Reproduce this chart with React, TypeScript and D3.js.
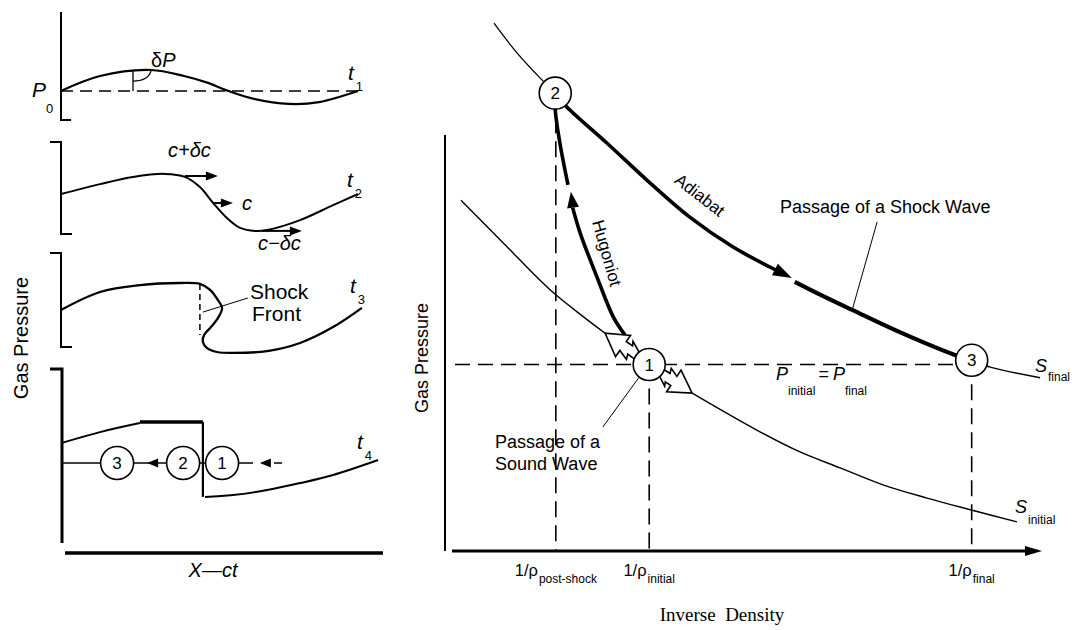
import React from 'react';
import * as d3 from 'd3';

type Pt = [number, number];

// ---------- left: gas pressure against X - ct at four moments (x in %, pressure relative to each panel's start level)
const profileT1: Pt[] = [[0, 0], [13, 5], [30, 7], [41, 5], [49, 2.7], [55, 0.3], [63, -2.3], [76, -4.3], [86, -3.7], [99, 0]];
const profileT2: Pt[] = [[0, 0], [13, 3.3], [24, 5.7], [34.7, 6.7], [41.3, 5.7], [46.3, 2.3], [50.7, -3], [55.3, -8], [59.7, -11.3], [64.7, -12.3], [68.7, -12], [79.7, -8.7], [90.7, -3.7], [99, 0]];
const profileT3: Pt[] = [[0, 0], [13, 6], [26.3, 8.3], [39.7, 9], [46.3, 8.7], [49.7, 6.7], [52.3, 3.3], [53.7, 0.7], [52.3, -2.7], [49.7, -6], [47.7, -8.3], [47.3, -10.7], [48.7, -12.7], [52, -14], [57.3, -14.3], [68.7, -13.7], [79.7, -11], [90.7, -5.7], [100.3, 0.7]];
const profileT4Rise: Pt[] = [[0.3, 6.7], [13, 10.3], [26.3, 13.3]];
const profileT4Plateau: Pt[] = [[26.3, 13.7], [47.3, 13.7]];
const profileT4Front: Pt[] = [[47.3, 13.7], [47.3, -11.3]];
const profileT4Tail: Pt[] = [[48, -11.3], [57.3, -10.7], [68.7, -9], [79.7, -6.7], [90.7, -4], [105.7, 1]];
const waveSpeeds = [
  { label: 'c+δc', from: [41.3, 6] as Pt, to: [52.3, 6] as Pt },
  { label: 'c', from: [50.7, -3] as Pt, to: [57.3, -3] as Pt },
  { label: 'c−δc', from: [67, -12.3] as Pt, to: [80.3, -12.3] as Pt },
];
const stateMarksT4 = [{ id: '3', x: 18.7 }, { id: '2', x: 40.7 }, { id: '1', x: 53.7 }];
const timeLabels = ['1', '2', '3', '4'];

// ---------- right: pressure against inverse density
const sFinalTop: Pt[] = [[7.24, 99.4], [11.2, 93.8], [15.5, 88.7], [17.8, 86.2]];
const sFinalShockA: Pt[] = [[17.8, 86.2], [19.8, 83.6], [26.7, 76.8], [33.6, 69.8], [41.0, 62.8], [48.4, 57.2], [54.8, 53.4], [56.6, 52.4]];
const sFinalArrow = { from: [54.8, 53.4] as Pt, tip: [58.6, 51.3] as Pt };
const sFinalShockB: Pt[] = [[59.1, 50.6], [64, 47.9], [69.0, 45.3], [77.2, 41.1], [86.7, 36.8], [89.6, 35.8]];
const sFinalRight: Pt[] = [[89.6, 35.8], [92.8, 34.5], [101.4, 32.5]];
const sInitialTop: Pt[] = [[1.55, 66.0], [9.48, 57.2], [16.9, 49.1], [22.9, 43.8], [26.4, 40.9]];
const sInitialBottom: Pt[] = [[41.4, 29.6], [53.1, 22.3], [60.0, 18.5], [66.9, 15.5], [74.3, 12.3], [81.9, 9.8], [89.7, 7.5], [97.4, 5.3]];
const hugoniotLow: Pt[] = [[29.8, 40.6], [27.8, 44.0], [25.0, 51.5], [22.1, 59.8], [20.8, 64.6]];
const hugoniotArrow = { from: [21.2, 62.0] as Pt, tip: [20.5, 67.6] as Pt };
const hugoniotHigh: Pt[] = [[20.0, 68.9], [18.6, 76.8], [17.8, 83.0], [17.8, 86.2]];
const states = [
  { id: '1', v: 34, p: 35 },
  { id: '2', v: 17.8, p: 86.2 },
  { id: '3', v: 89.6, p: 35.8 },
];
const pInitial = 35;
const densityTicks = [
  { v: 17.9, sub: 'post-shock', top: 86.2 },
  { v: 34, sub: 'initial', top: 35 },
  { v: 89.6, sub: 'final', top: 35.8 },
];
const shockLeader: Pt[] = [[73.3, 61.9], [69.0, 45.3]];
const soundLeader: Pt[] = [[26.0, 23.2], [32.4, 32.8]];

const sans = "'Liberation Sans', Arial, Helvetica, sans-serif";

const xL = d3.scaleLinear().domain([0, 100]).range([61, 361]);
const panelZero = [91, 194, 310, 463];
const yL = panelZero.map(z => d3.scaleLinear().domain([0, 10]).range([z, z - 30]));
const lineL = (i: number) =>
  d3.line<Pt>().x(d => xL(d[0])).y(d => yL[i](d[1])).curve(d3.curveCatmullRom.alpha(0.5));

const xR = d3.scaleLinear().domain([0, 100]).range([452, 1032]);
const yR = d3.scaleLinear().domain([0, 100]).range([550, 20]);
const lineR = d3.line<Pt>().x(d => xR(d[0])).y(d => yR(d[1])).curve(d3.curveCatmullRom.alpha(0.5));
const straight = d3.line<Pt>().x(d => xR(d[0])).y(d => yR(d[1]));

function head(tip: Pt, from: Pt, len: number, hw: number) {
  const dx = tip[0] - from[0], dy = tip[1] - from[1];
  const d = Math.hypot(dx, dy);
  const ux = dx / d, uy = dy / d;
  const bx = tip[0] - ux * len, by = tip[1] - uy * len;
  return `M${tip[0]},${tip[1]}L${bx - uy * hw},${by + ux * hw}L${bx + uy * hw},${by - ux * hw}Z`;
}

// open zig-zag arrow leaving a state circle
function hollowArrow(c: Pt, tip: Pt, r: number) {
  const dx = tip[0] - c[0], dy = tip[1] - c[1];
  const d = Math.hypot(dx, dy);
  const ux = dx / d, uy = dy / d, vx = -uy, vy = ux;
  const L = d - r + 1, hb = L - 22;
  const local: Pt[] = [
    [0, -4], [hb * 0.5, -4], [hb * 0.38, -9], [hb, -5.5], [hb, -13],
    [L, 0],
    [hb, 13], [hb, 5.5], [hb * 0.55, 5.5], [hb * 0.68, 9.5], [0, 4],
  ];
  return 'M' + local.map(([u, v]) => `${c[0] + ux * (r - 1 + u) + vx * v},${c[1] + uy * (r - 1 + u) + vy * v}`).join('L') + 'Z';
}

const App: React.FC = () => {
  const P = (s: Pt) => [xR(s[0]), yR(s[1])] as Pt;
  const c1 = P([states[0].v, states[0].p]);
  const y4 = yL[3];

  return (
    <svg width={1072} height={630} style={{ position: 'absolute', left: 0, top: 0, background: '#fff' }} fontFamily={sans}>
      <rect width={1072} height={630} fill="#fff" />

      {/* ---------------- left column ---------------- */}
      <text transform="translate(28,338) rotate(-90)" textAnchor="middle" fontSize={20}>Gas Pressure</text>

      {/* t1 */}
      <path d="M61,12V120H71" fill="none" stroke="#000" strokeWidth={2} />
      <line x1={xL(0)} x2={xL(99)} y1={yL[0](0)} y2={yL[0](0)} stroke="#000" strokeWidth={1.5} strokeDasharray="12 7" />
      <path d={lineL(0)(profileT1)!} fill="none" stroke="#000" strokeWidth={2.2} />
      <line x1={xL(24)} x2={xL(24)} y1={yL[0](0)} y2={yL[0](6.6)} stroke="#000" strokeWidth={1.3} />
      <path d={`M${xL(24)},${yL[0](3.3)}Q${xL(29)},${yL[0](3.3)} ${xL(30)},${yL[0](6.7)}`} fill="none" stroke="#000" strokeWidth={1.3} />
      <text x={151} y={67} fontSize={20}>δ<tspan fontStyle="italic">P</tspan></text>
      <text x={32} y={97} fontSize={21} fontStyle="italic">P</text>
      <text x={46} y={113} fontSize={13}>0</text>

      {/* t2 */}
      <path d="M50,142H61V234H72" fill="none" stroke="#000" strokeWidth={2} />
      <path d={lineL(1)(profileT2)!} fill="none" stroke="#000" strokeWidth={2} />
      {waveSpeeds.map(w => (
        <g key={w.label}>
          <line x1={xL(w.from[0])} x2={xL(w.to[0]) - 8} y1={yL[1](w.from[1])} y2={yL[1](w.to[1])} stroke="#000" strokeWidth={2} />
          <path d={head([xL(w.to[0]), yL[1](w.to[1])], [xL(w.from[0]), yL[1](w.from[1])], 12, 4.5)} fill="#000" />
        </g>
      ))}
      <text x={168} y={157} fontSize={20} fontStyle="italic">c+δc</text>
      <text x={242} y={210} fontSize={20} fontStyle="italic">c</text>
      <text x={258} y={250} fontSize={20} fontStyle="italic">c−δc</text>

      {/* t3 */}
      <path d="M50,253H61V347H72" fill="none" stroke="#000" strokeWidth={2} />
      <path d={lineL(2)(profileT3)!} fill="none" stroke="#000" strokeWidth={2.3} />
      <line x1={xL(46.3)} x2={xL(46.3)} y1={yL[2](8.7)} y2={yL[2](-8.3)} stroke="#000" strokeWidth={1.5} strokeDasharray="6 4" />
      <line x1={xL(47.3)} y1={yL[2](-0.7)} x2={xL(62.3)} y2={yL[2](4)} stroke="#000" strokeWidth={1} />
      <text x={250} y={299} fontSize={21}>Shock</text>
      <text x={252} y={321} fontSize={21}>Front</text>

      {/* t4 */}
      <path d="M50,369H62V543" fill="none" stroke="#000" strokeWidth={3} />
      <line x1={65} x2={383} y1={553} y2={553} stroke="#000" strokeWidth={3.5} />
      <text x={213} y={577} fontSize={20} fontStyle="italic" textAnchor="middle">X—ct</text>
      <path d={lineL(3)(profileT4Rise)!} fill="none" stroke="#000" strokeWidth={2} />
      <path d={lineL(3)(profileT4Plateau)!} fill="none" stroke="#000" strokeWidth={3.5} />
      <path d={lineL(3)(profileT4Front)!} fill="none" stroke="#000" strokeWidth={2.2} />
      <path d={lineL(3)(profileT4Tail)!} fill="none" stroke="#000" strokeWidth={2} />
      <line x1={xL(0.3)} x2={xL(64)} y1={y4(0)} y2={y4(0)} stroke="#000" strokeWidth={1.5} />
      <path d={head([xL(28.7), y4(0)], [xL(35), y4(0)], 11, 4.5)} fill="#000" />
      <path d={head([xL(66.3), y4(0)], [xL(74), y4(0)], 11, 4.5)} fill="#000" />
      <line x1={xL(71)} x2={xL(73.7)} y1={y4(0)} y2={y4(0)} stroke="#000" strokeWidth={1.5} />
      {stateMarksT4.map(s => (
        <g key={s.id}>
          <circle cx={xL(s.x)} cy={y4(0)} r={16.5} fill="#fff" stroke="#000" strokeWidth={1.6} />
          <text x={xL(s.x)} y={y4(0) + 6} textAnchor="middle" fontSize={17}>{s.id}</text>
        </g>
      ))}

      {/* time labels */}
      {timeLabels.map((t, i) => {
        const pos = [[348, 80], [347, 187], [350, 293], [357, 449]][i];
        return (
          <text key={t} x={pos[0]} y={pos[1]} fontSize={21} fontStyle="italic">t<tspan fontSize={13} fontStyle="normal" dx={2} dy={11}>{t}</tspan></text>
        );
      })}

      {/* ---------------- right diagram ---------------- */}
      <text transform="translate(428,358) rotate(-90)" textAnchor="middle" fontSize={18}>Gas Pressure</text>
      <line x1={445} x2={445} y1={135} y2={551} stroke="#000" strokeWidth={2} />
      <line x1={452} x2={1028} y1={551} y2={551} stroke="#000" strokeWidth={3} />
      <path d="M1042,551L1025,546L1025,556Z" fill="#000" />
      <text x={722} y={621} textAnchor="middle" fontSize={19} fontFamily="'Liberation Serif', 'Times New Roman', serif" style={{ whiteSpace: 'pre' }}>Inverse  Density</text>

      {/* reference lines */}
      <line x1={455} x2={xR(states[2].v)} y1={yR(pInitial)} y2={yR(pInitial)} stroke="#000" strokeWidth={1.5} strokeDasharray="15 8" />
      {densityTicks.map(t => (
        <g key={t.sub}>
          <line x1={xR(t.v)} x2={xR(t.v)} y1={yR(t.top)} y2={yR(0)} stroke="#000" strokeWidth={1.6} strokeDasharray="16 8" />
          <text x={xR(t.v)} y={576} textAnchor="middle" fontSize={16.5}>1/ρ<tspan fontSize={12} dx={1} dy={7}>{t.sub}</tspan></text>
        </g>
      ))}

      {/* isentropes */}
      <path d={lineR(sFinalTop)!} fill="none" stroke="#000" strokeWidth={1.3} />
      <path d={lineR(sFinalShockA)!} fill="none" stroke="#000" strokeWidth={3.6} />
      <path d={head(P(sFinalArrow.tip), P(sFinalArrow.from), 19, 6.5)} fill="#000" />
      <path d={lineR(sFinalShockB)!} fill="none" stroke="#000" strokeWidth={4.2} />
      <path d={lineR(sFinalRight)!} fill="none" stroke="#000" strokeWidth={1.5} />
      <path d={lineR(sInitialTop)!} fill="none" stroke="#000" strokeWidth={1.4} />
      <path d={lineR(sInitialBottom)!} fill="none" stroke="#000" strokeWidth={1.4} />

      {/* Hugoniot */}
      <path d={lineR(hugoniotLow)!} fill="none" stroke="#000" strokeWidth={3.6} />
      <path d={head(P(hugoniotArrow.tip), P(hugoniotArrow.from), 16, 6)} fill="#000" />
      <path d={lineR(hugoniotHigh)!} fill="none" stroke="#000" strokeWidth={3.6} />

      {/* sound wave arrows */}
      <path d={hollowArrow(c1, P(sInitialTop[sInitialTop.length - 1]), 16)} fill="#fff" stroke="#000" strokeWidth={1.6} strokeLinejoin="miter" />
      <path d={hollowArrow(c1, P(sInitialBottom[0]), 16)} fill="#fff" stroke="#000" strokeWidth={1.6} strokeLinejoin="miter" />

      {/* leaders */}
      <path d={straight(shockLeader)!} stroke="#000" strokeWidth={1} fill="none" />
      <path d={straight(soundLeader)!} stroke="#000" strokeWidth={1} fill="none" />

      {states.map(s => (
        <g key={s.id}>
          <circle cx={xR(s.v)} cy={yR(s.p)} r={16} fill="#fff" stroke="#000" strokeWidth={1.6} />
          <text x={xR(s.v)} y={yR(s.p) + 6} textAnchor="middle" fontSize={17}>{s.id}</text>
        </g>
      ))}

      {/* labels */}
      <text transform="translate(607,253) rotate(74)" textAnchor="middle" dy="0.35em" fontSize={17}>Hugoniot</text>
      <text transform="translate(700,195) rotate(38)" textAnchor="middle" dy="0.35em" fontSize={17}>Adiabat</text>
      <text x={780} y={213} fontSize={18}>Passage of a Shock Wave</text>
      <text x={495} y={448} fontSize={18}>Passage of a</text>
      <text x={495} y={470} fontSize={18}>Sound Wave</text>
      <text x={776} y={380} fontSize={18}>
        <tspan fontStyle="italic">P</tspan>
        <tspan fontSize={12} dy={15}>initial</tspan>
        <tspan dx={3} dy={-15}>=</tspan>
        <tspan dx={4} fontStyle="italic">P</tspan>
        <tspan fontSize={12} dy={15}>final</tspan>
      </text>
      <text x={1035} y={372} fontSize={18}>
        <tspan fontStyle="italic">S</tspan>
        <tspan fontSize={12} dx={1} dy={9}>final</tspan>
      </text>
      <text x={1015} y={513} fontSize={18}>
        <tspan fontStyle="italic">S</tspan>
        <tspan fontSize={12} dx={1} dy={11}>initial</tspan>
      </text>
    </svg>
  );
};

export default App;
